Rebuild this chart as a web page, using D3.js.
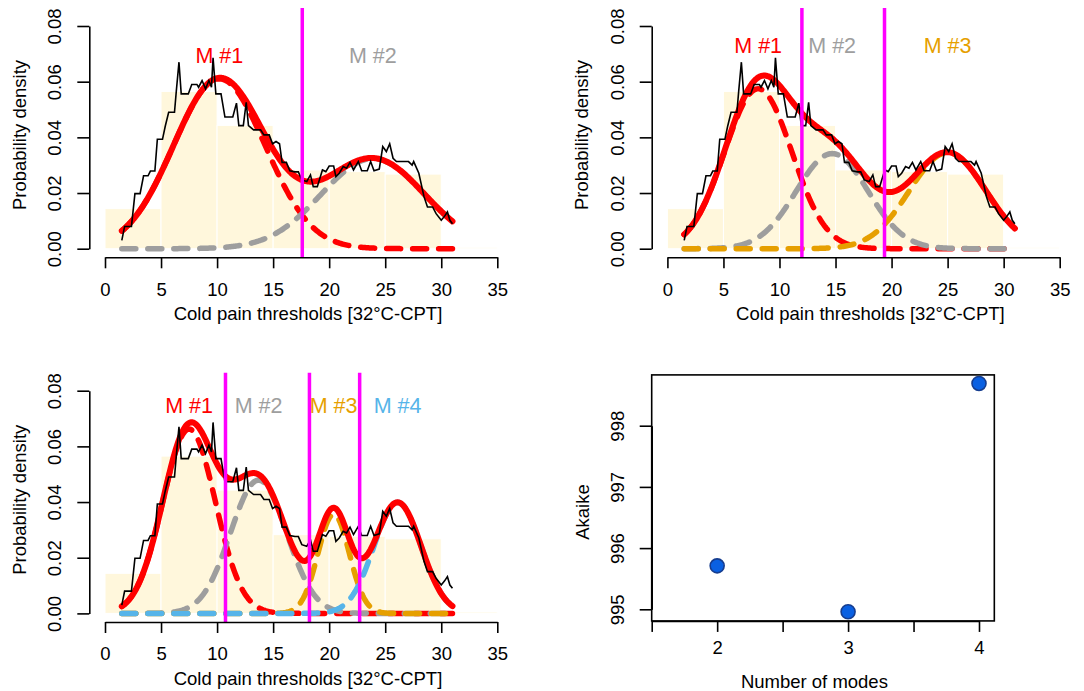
<!DOCTYPE html>
<html>
<head>
<meta charset="utf-8">
<script src="https://cdn.jsdelivr.net/npm/d3@7"></script>
<style>
  body { margin: 0; background: #fff; }
  text { font-family: "Liberation Sans", Arial, sans-serif; }
</style>
</head>
<body>
<div id="chart"></div>
<script>
// empirical density of the cold pain thresholds (black jagged line)
var pdeX = [1.5, 1.75, 2.36, 2.67, 3.13, 3.44, 3.84, 4.05, 4.45, 4.67, 5.13, 5.37, 5.68, 6.2, 6.36, 6.6, 6.8, 7.43,
  7.74, 8.2, 8.35, 8.66, 8.97, 9.27, 9.5, 9.64, 9.89, 10.35, 10.7, 11.4, 11.73, 11.94, 12.34, 12.6, 12.8, 13.26,
  13.88, 14.18, 14.65, 14.95, 15.26, 15.57, 15.8, 16.18, 16.49, 16.95, 17.25, 17.56, 18.0, 18.33, 18.58, 18.94,
  19.4, 19.7, 20.0, 20.4, 20.6, 20.9, 21.25, 21.55, 21.86, 22.17, 22.6, 22.9, 23.4, 23.7, 24.0, 24.47, 24.78,
  25.1, 25.4, 25.7, 26.0, 27.08, 27.4, 27.54, 28.0, 28.46, 28.77, 29.23, 29.54, 30.0, 30.3, 30.55, 30.77, 31.0];
var pdeY = [0.003, 0.008, 0.008, 0.0198, 0.0198, 0.0262, 0.0262, 0.0279, 0.0279, 0.0393, 0.0393, 0.0439, 0.049,
  0.049, 0.0565, 0.067, 0.0556, 0.0556, 0.059, 0.059, 0.058, 0.0604, 0.0574, 0.0604, 0.058, 0.0686, 0.0556, 0.0556,
  0.0473, 0.0473, 0.0523, 0.0442, 0.0442, 0.0526, 0.0442, 0.0427, 0.0427, 0.0409, 0.0409, 0.0377, 0.0385, 0.0377,
  0.031, 0.031, 0.028, 0.0276, 0.0276, 0.0247, 0.0241, 0.0265, 0.0223, 0.0223, 0.0283, 0.0277, 0.0297, 0.0297,
  0.0259, 0.0271, 0.0295, 0.0289, 0.031, 0.0283, 0.0313, 0.028, 0.028, 0.0313, 0.028, 0.0286, 0.0367, 0.0349,
  0.0377, 0.0325, 0.0313, 0.0313, 0.030, 0.0313, 0.0271, 0.0187, 0.015, 0.015, 0.0126, 0.0102, 0.0117, 0.0132,
  0.0102, 0.009];

var histBreaks = [0, 5, 10, 15, 20, 25, 30, 35];
var histDensity = [0.0144, 0.0565, 0.0443, 0.0283, 0.0277, 0.0268, 0.0005];

var modeColors = ["#FF0000", "#9E9E9E", "#E69F00", "#56B4E9"];
var modeLabels = ["M #1", "M #2", "M #3", "M #4"];

// gaussian mixture fits: means, standard deviations, weights, bayes boundaries
var means2 = [10.2, 23.9], sds2 = [4.1, 4.6], weights2 = [0.627, 0.373], bounds2 = [17.6];
var means3 = [8.1, 14.7, 25.0], sds3 = [3.0, 3.2, 3.4], weights3 = [0.432, 0.274, 0.294], bounds3 = [12.0, 19.37];
var means4 = [7.5, 13.7, 20.4, 26.1], sds4 = [2.35, 2.5, 1.4, 2.1], weights4 = [0.39, 0.30, 0.125, 0.21],
  bounds4 = [10.75, 18.24, 22.72];

var modeCounts = [2, 3, 4];
var akaike = [995.71, 994.96, 998.69];

var xTicks = [0, 5, 10, 15, 20, 25, 30, 35];
var yTicks = [0, 0.02, 0.04, 0.06, 0.08];
var aicTicks = [995, 996, 997, 998];
var modeTicks = [1.5, 2, 2.5, 3, 3.5, 4];
var modeTickLabels = ["", "2", "", "3", "", "4"];

var fontSize = 18.5;

var svg = d3.select("#chart").append("svg")
  .attr("width", 1084)
  .attr("height", 691)
  .style("background", "#fff");

function dnorm(x, m, s) {
  return Math.exp(-0.5 * ((x - m) / s) * ((x - m) / s)) / (s * Math.sqrt(2 * Math.PI));
}

var curveX = d3.range(1.5, 31.001, 0.1);

function styleAxis(ax) {
  ax.attr("font-size", fontSize).attr("font-family", "'Liberation Sans', Arial, sans-serif");
  ax.selectAll("path").attr("stroke", "#000").attr("stroke-width", 1.6);
  ax.selectAll("line").attr("stroke", "#000").attr("stroke-width", 1.6);
  ax.selectAll("text").attr("fill", "#000");
}

function mixturePanel(ox, oy, means, sds, weights, bounds, labelBase) {
  var g = svg.append("g").attr("transform", "translate(" + ox + "," + oy + ")");

  var x = d3.scaleLinear().domain([0, 35]).range([105, 497.3]);
  var y = d3.scaleLinear().domain([0, 0.08]).range([248.7, 26]);

  g.selectAll(".bar")
    .data(histDensity)
    .enter().append("rect")
    .attr("x", function(d, i) { return x(histBreaks[i]); })
    .attr("width", function(d, i) { return x(histBreaks[i + 1]) - x(histBreaks[i]); })
    .attr("y", function(d) { return y(d); })
    .attr("height", function(d) { return y(0) - y(d); })
    .attr("fill", "#FFF7DC")
    .attr("stroke", "#fff")
    .attr("stroke-width", 1);

  // mode labels at the component means
  g.selectAll(".lab")
    .data(means)
    .enter().append("text")
    .attr("x", function(d) { return x(d); })
    .attr("y", labelBase)
    .attr("text-anchor", "middle")
    .attr("font-size", 21.5)
    .attr("fill", function(d, i) { return modeColors[i]; })
    .text(function(d, i) { return modeLabels[i]; });

  var line = d3.line()
    .x(function(d) { return x(d[0]); })
    .y(function(d) { return y(d[1]); });

  means.forEach(function(m, i) {
    var pts = curveX.map(function(v) { return [v, weights[i] * dnorm(v, m, sds[i])]; });
    g.append("path")
      .attr("d", line(pts))
      .attr("fill", "none")
      .attr("stroke", modeColors[i])
      .attr("stroke-width", 5.5)
      .attr("stroke-linecap", "round")
      .attr("stroke-dasharray", "14 12");
  });

  var total = curveX.map(function(v) {
    return [v, d3.sum(means, function(m, i) { return weights[i] * dnorm(v, m, sds[i]); })];
  });
  g.append("path")
    .attr("d", line(total))
    .attr("fill", "none")
    .attr("stroke", "#FF0000")
    .attr("stroke-width", 6)
    .attr("stroke-linecap", "round")
    .attr("stroke-linejoin", "round");

  g.append("path")
    .attr("d", line(pdeX.map(function(v, i) { return [v, pdeY[i]]; })))
    .attr("fill", "none")
    .attr("stroke", "#000")
    .attr("stroke-width", 1.6);

  g.selectAll(".bound")
    .data(bounds)
    .enter().append("line")
    .attr("x1", function(d) { return x(d); })
    .attr("x2", function(d) { return x(d); })
    .attr("y1", 8)
    .attr("y2", 257.6)
    .attr("stroke", "#FF00FF")
    .attr("stroke-width", 3.5);

  var xa = g.append("g")
    .attr("transform", "translate(0,257.3)")
    .call(d3.axisBottom(x).tickValues(xTicks).tickSize(11).tickSizeOuter(0));
  styleAxis(xa);
  xa.selectAll("text").attr("y", 38.4).attr("dy", null);

  var ya = g.append("g")
    .attr("transform", "translate(89.3,0)")
    .call(d3.axisLeft(y).tickValues(yTicks).tickSize(12).tickSizeOuter(0).tickFormat(d3.format(".2f")));
  styleAxis(ya);
  ya.selectAll("text")
    .attr("x", null).attr("dy", null)
    .attr("text-anchor", "middle")
    .attr("transform", "translate(-28.1,0) rotate(-90)");

  g.append("text")
    .attr("x", 308).attr("y", 320)
    .attr("text-anchor", "middle")
    .attr("font-size", fontSize)
    .text("Cold pain thresholds [32°C-CPT]");

  g.append("text")
    .attr("transform", "translate(26,135) rotate(-90)")
    .attr("text-anchor", "middle")
    .attr("font-size", fontSize)
    .text("Probability density");
}

mixturePanel(0, 0, means2, sds2, weights2, bounds2, 63);
mixturePanel(562.4, 0, means3, sds3, weights3, bounds3, 52.7);
mixturePanel(0, 364.7, means4, sds4, weights4, bounds4, 48);

// Akaike panel
var x4 = d3.scaleLinear().domain([1.5, 4]).range([651.7, 979]);
var y4 = d3.scaleLinear().domain([995, 998]).range([609.3, 425.7]);
var g4 = svg.append("g");

g4.append("rect")
  .attr("x", x4(1.5))
  .attr("y", y4(998.83))
  .attr("width", x4(4.117) - x4(1.5))
  .attr("height", y4(994.81) - y4(998.83))
  .attr("fill", "none")
  .attr("stroke", "#000")
  .attr("stroke-width", 1.6);

var xa4 = g4.append("g")
  .attr("transform", "translate(0," + y4(994.81) + ")")
  .call(d3.axisBottom(x4).tickValues(modeTicks).tickSize(11).tickSizeOuter(0)
    .tickFormat(function(d, i) { return modeTickLabels[i]; }));
styleAxis(xa4);
xa4.selectAll("text").attr("y", 33.3).attr("dy", null);

var ya4 = g4.append("g")
  .attr("transform", "translate(" + x4(1.5) + ",0)")
  .call(d3.axisLeft(y4).tickValues(aicTicks).tickSize(12).tickSizeOuter(0).tickFormat(d3.format("d")));
styleAxis(ya4);
ya4.selectAll("text")
  .attr("x", null).attr("dy", null)
  .attr("text-anchor", "middle")
  .attr("transform", "translate(-28.1,0) rotate(-90)");

g4.selectAll(".pt")
  .data(akaike)
  .enter().append("circle")
  .attr("cx", function(d, i) { return x4(modeCounts[i]); })
  .attr("cy", function(d) { return y4(d); })
  .attr("r", 7)
  .attr("fill", "#0A60E2")
  .attr("stroke", "#163D8F")
  .attr("stroke-width", 1.6);

g4.append("text")
  .attr("x", 814.4).attr("y", 688.3)
  .attr("text-anchor", "middle")
  .attr("font-size", fontSize)
  .text("Number of modes");

g4.append("text")
  .attr("transform", "translate(589,512) rotate(-90)")
  .attr("text-anchor", "middle")
  .attr("font-size", fontSize)
  .text("Akaike");
</script>
</body>
</html>
